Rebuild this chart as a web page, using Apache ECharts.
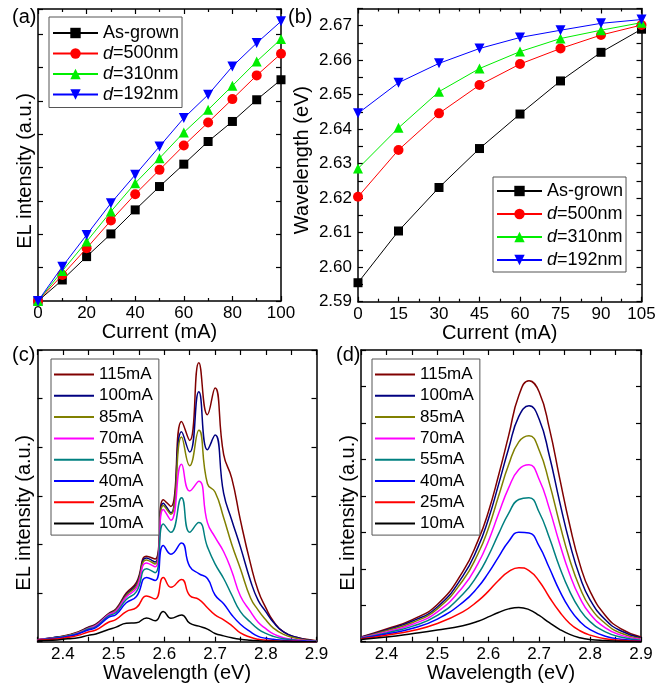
<!DOCTYPE html>
<html><head><meta charset="utf-8">
<script src="https://cdn.jsdelivr.net/npm/echarts@6/dist/echarts.min.js"></script>
<style>html,body{margin:0;padding:0;background:#fff}#c{width:670px;height:685px}</style>
</head><body><div id="c"></div>
<script>
const FONT = '"Liberation Sans", Arial, sans-serif';

// ---- Panel (a): EL intensity vs current ----
const currentA = [0, 10, 20, 30, 40, 50, 60, 70, 80, 90, 100];
const elAsGrown = [0, 0.63, 1.33, 2.01, 2.73, 3.43, 4.10, 4.78, 5.38, 6.03, 6.63];
const elD500 = [0, 0.78, 1.58, 2.41, 3.20, 3.93, 4.66, 5.35, 6.05, 6.76, 7.41];
const elD310 = [0, 0.90, 1.78, 2.68, 3.53, 4.28, 5.05, 5.73, 6.45, 7.18, 7.85];
const elD192 = [0, 1.03, 1.98, 2.93, 3.78, 4.63, 5.48, 6.18, 7.03, 7.73, 8.38];

// ---- Panel (b): peak position vs current ----
const currentB = [0, 15, 30, 45, 60, 75, 90, 105];
const wlAsGrown = [2.5955, 2.6105, 2.6231, 2.6344, 2.6444, 2.6540, 2.6623, 2.6690];
const wlD500 = [2.6204, 2.6340, 2.6446, 2.6528, 2.6589, 2.6634, 2.6673, 2.6702];
const wlD310 = [2.6286, 2.6404, 2.6509, 2.6576, 2.6625, 2.6663, 2.6687, 2.6709];
const wlD192 = [2.6446, 2.6535, 2.6591, 2.6634, 2.6666, 2.6687, 2.6707, 2.6718];

const sampleNames = ['As-grown', 'd=500nm', 'd=310nm', 'd=192nm'];
const currentNames = ['115mA', '100mA', '85mA', '70mA', '55mA', '40mA', '25mA', '10mA'];

// ---- Panel (c): spectra, as-grown ----
const energyC = [2.35, 2.38, 2.41, 2.43, 2.45, 2.465, 2.49, 2.505, 2.525, 2.545, 2.565, 2.582,
  2.598, 2.613, 2.634, 2.65, 2.668, 2.685, 2.70, 2.717, 2.733, 2.75, 2.77, 2.785, 2.80, 2.815, 2.835, 2.86, 2.88, 2.90];
const c115 = [0.04, 0.08, 0.14, 0.20, 0.30, 0.36, 0.58, 0.68, 1.00, 1.22, 1.76, 1.70,
  2.92, 2.78, 4.53, 4.14, 5.74, 4.67, 5.22, 3.85, 3.36, 2.50, 1.60, 1.05, 0.70, 0.42, 0.20, 0.09, 0.05, 0.02];
const c100 = [0.04, 0.08, 0.13, 0.19, 0.29, 0.35, 0.57, 0.66, 0.97, 1.18, 1.72, 1.64,
  2.85, 2.65, 4.32, 3.90, 5.14, 3.95, 4.25, 3.05, 2.50, 1.95, 1.25, 0.85, 0.62, 0.40, 0.20, 0.09, 0.04, 0.01];
const c85 = [0.04, 0.07, 0.13, 0.19, 0.28, 0.34, 0.56, 0.65, 0.95, 1.15, 1.68, 1.60,
  2.80, 2.62, 4.21, 3.62, 4.35, 3.25, 3.08, 2.55, 2.00, 1.50, 0.90, 0.65, 0.45, 0.28, 0.15, 0.07, 0.03, 0.01];
const c70 = [0.04, 0.07, 0.12, 0.18, 0.27, 0.33, 0.55, 0.63, 0.92, 1.10, 1.62, 1.54,
  2.72, 2.50, 3.65, 3.10, 3.30, 2.45, 2.15, 1.85, 1.45, 0.94, 0.62, 0.40, 0.27, 0.16, 0.08, 0.04, 0.02, 0.01];
const c55 = [0.03, 0.07, 0.12, 0.17, 0.26, 0.31, 0.53, 0.60, 0.87, 1.03, 1.50, 1.42,
  2.42, 2.25, 2.96, 2.25, 2.45, 1.95, 1.60, 1.30, 0.96, 0.62, 0.40, 0.26, 0.17, 0.11, 0.06, 0.03, 0.01, 0.01];
const c40 = [0.03, 0.06, 0.11, 0.16, 0.24, 0.29, 0.50, 0.56, 0.80, 0.93, 1.32, 1.26,
  1.98, 1.80, 2.03, 1.55, 1.40, 1.30, 0.96, 0.78, 0.55, 0.36, 0.20, 0.11, 0.07, 0.05, 0.03, 0.02, 0.01, 0.00];
const c25 = [0.03, 0.05, 0.09, 0.13, 0.20, 0.24, 0.40, 0.46, 0.62, 0.70, 0.94, 0.88,
  1.32, 1.12, 1.28, 0.95, 0.87, 0.70, 0.55, 0.45, 0.33, 0.18, 0.09, 0.05, 0.03, 0.02, 0.01, 0.01, 0.00, 0.00];
const c10 = [0.02, 0.03, 0.06, 0.08, 0.13, 0.16, 0.25, 0.30, 0.38, 0.39, 0.49, 0.43,
  0.62, 0.48, 0.55, 0.38, 0.32, 0.26, 0.17, 0.12, 0.08, 0.05, 0.03, 0.02, 0.01, 0.01, 0.01, 0.00, 0.00, 0.00];

// ---- Panel (d): spectra, patterned ----
const energyD = [2.35, 2.40, 2.45, 2.50, 2.55, 2.58, 2.60, 2.62, 2.64, 2.66, 2.68, 2.70, 2.72, 2.74, 2.76, 2.78, 2.80, 2.83, 2.86, 2.90];
const d115 = [0.13, 0.35, 0.60, 1.02, 1.92, 2.78, 3.55, 4.55, 5.65, 6.75, 7.16, 6.85, 5.85, 4.50, 3.20, 2.12, 1.38, 0.72, 0.36, 0.13];
const d100 = [0.12, 0.32, 0.56, 0.95, 1.80, 2.60, 3.35, 4.30, 5.30, 6.18, 6.47, 6.10, 5.10, 3.85, 2.70, 1.78, 1.15, 0.60, 0.30, 0.10];
const d85 = [0.11, 0.30, 0.52, 0.90, 1.68, 2.42, 3.10, 3.98, 4.85, 5.48, 5.65, 5.25, 4.35, 3.25, 2.25, 1.48, 0.95, 0.50, 0.24, 0.08];
const d70 = [0.11, 0.27, 0.47, 0.82, 1.50, 2.15, 2.75, 3.50, 4.22, 4.72, 4.85, 4.45, 3.65, 2.70, 1.85, 1.20, 0.76, 0.38, 0.18, 0.06];
const d55 = [0.10, 0.24, 0.42, 0.72, 1.30, 1.85, 2.35, 2.95, 3.52, 3.90, 3.95, 3.55, 2.85, 2.05, 1.38, 0.88, 0.55, 0.27, 0.13, 0.04];
const d40 = [0.09, 0.21, 0.36, 0.62, 1.08, 1.50, 1.88, 2.32, 2.75, 3.00, 2.98, 2.62, 2.02, 1.40, 0.90, 0.55, 0.33, 0.15, 0.07, 0.02];
const d25 = [0.08, 0.18, 0.30, 0.50, 0.82, 1.12, 1.38, 1.68, 1.92, 2.03, 1.95, 1.66, 1.22, 0.82, 0.50, 0.30, 0.18, 0.08, 0.04, 0.01];
const d10 = [0.06, 0.13, 0.22, 0.32, 0.44, 0.56, 0.68, 0.80, 0.90, 0.94, 0.88, 0.72, 0.52, 0.34, 0.20, 0.11, 0.06, 0.03, 0.01, 0.00];

const specColors = ['#800000', '#000080', '#808000', '#ff00ff', '#008080', '#0000ff', '#ff0000', '#000000'];
const sampleColors = ['#000000', '#ff0000', '#00ee00', '#0000ff'];
const sampleSymbols = ['rect', 'circle', 'triangle', 'triangle'];
const sampleRotate = [0, 0, 0, 180];

function zip(xs, ys) { return xs.map((x, i) => [x, ys[i]]); }

const grids = [
  { left: 38, top: 9, width: 243, height: 292 },
  { left: 358, top: 8.5, width: 283.5, height: 293.2 },
  { left: 37.5, top: 350, width: 279, height: 291.7 },
  { left: 361, top: 350, width: 280, height: 291.7 }
];

const lineAx = { show: true, onZero: false, lineStyle: { color: '#000', width: 1.5 } };
const tickAx = { show: true, inside: true, length: 5, lineStyle: { color: '#000', width: 1.2 } };
const labelBase = { color: '#000', fontFamily: FONT, fontSize: 17 };
const nameBase = { color: '#000', fontFamily: FONT, fontSize: 20 };

function xPair(g, cfg) {
  const main = Object.assign({
    type: 'value', gridIndex: g, position: 'bottom',
    axisLine: lineAx, axisTick: tickAx, splitLine: { show: false },
    minorTick: { show: !!cfg.minor, splitNumber: 2, length: 3, lineStyle: { color: '#000', width: 1.2 } },
    axisLabel: Object.assign({ margin: 4 }, labelBase, cfg.label || {}),
    nameLocation: 'middle', nameTextStyle: nameBase
  }, cfg.axis);
  const mirror = Object.assign({}, main, { position: 'top', name: '', axisLabel: { show: false } });
  return [main, mirror];
}
function yPair(g, cfg) {
  const main = Object.assign({
    type: 'value', gridIndex: g, position: 'left',
    axisLine: lineAx, axisTick: tickAx, splitLine: { show: false },
    minorTick: { show: !!cfg.minor, splitNumber: 2, length: 3, lineStyle: { color: '#000', width: 1.2 } },
    axisLabel: Object.assign({ margin: 6 }, labelBase, cfg.label || {}),
    nameLocation: 'middle', nameRotate: 90
  }, cfg.axis);
  const mirror = Object.assign({}, main, { position: 'right', name: '', axisLabel: { show: false } });
  return [main, mirror];
}

const evFmt = v => (Math.round(v * 100) % 10 === 0 ? v.toFixed(1) : '');
const wlFmt = v => (Math.round(v * 1000) % 10 === 0 ? v.toFixed(2) : '');

const xAxis = [].concat(
  xPair(0, { minor: true, axis: { min: 0, max: 100, interval: 20, name: 'Current (mA)', nameGap: 15 } }),
  xPair(1, { minor: true, axis: { min: 0, max: 105, interval: 15, name: 'Current (mA)', nameGap: 15 } }),
  xPair(2, { axis: { min: 2.35, max: 2.9, interval: 0.05, name: 'Wavelength (eV)', nameGap: 17 }, label: { formatter: evFmt } }),
  xPair(3, { axis: { min: 2.35, max: 2.9, interval: 0.05, name: 'Wavelength (eV)', nameGap: 17 }, label: { formatter: evFmt } })
);
const yAxis = [].concat(
  yPair(0, { axis: { min: 0, max: 8.75, interval: 1, name: 'EL intensity (a.u.)', nameGap: 3,
    nameTextStyle: Object.assign({ padding: [0, 32, 0, 0] }, nameBase) }, label: { show: false } }),
  yPair(1, { axis: { min: 2.59, max: 2.675, interval: 0.005, name: 'Wavelength (eV)', nameGap: 46,
    nameTextStyle: Object.assign({ padding: [0, 10, 0, 0] }, nameBase) }, label: { formatter: wlFmt } }),
  yPair(2, { axis: { min: 0, max: 6, interval: 1, name: 'EL intensity (a.u.)', nameGap: 3,
    nameTextStyle: Object.assign({ padding: [0, 34, 0, 0] }, nameBase) }, label: { show: false } }),
  yPair(3, { axis: { min: 0, max: 8, interval: 1, name: 'EL intensity (a.u.)', nameGap: 3,
    nameTextStyle: Object.assign({ padding: [0, 34, 0, 0] }, nameBase) }, label: { show: false } })
);

const series = [];
const aData = [elAsGrown, elD500, elD310, elD192];
const bData = [wlAsGrown, wlD500, wlD310, wlD192];
sampleNames.forEach((n, i) => {
  const common = {
    type: 'line', name: n, symbol: sampleSymbols[i], symbolRotate: sampleRotate[i],
    symbolSize: i === 0 ? 9 : 10, color: sampleColors[i],
    lineStyle: { width: 1, color: sampleColors[i] }, itemStyle: { color: sampleColors[i] },
    animation: false, z: 3 + i
  };
  series.push(Object.assign({}, common, { xAxisIndex: 0, yAxisIndex: 0, data: zip(currentA, aData[i]) }));
  series.push(Object.assign({}, common, { xAxisIndex: 2, yAxisIndex: 2, data: zip(currentB, bData[i]) }));
});
const cData = [c115, c100, c85, c70, c55, c40, c25, c10];
const dData = [d115, d100, d85, d70, d55, d40, d25, d10];
currentNames.forEach((n, i) => {
  const common = {
    type: 'line', name: n, symbol: 'none', showSymbol: false, smooth: 0.5,
    color: specColors[i], lineStyle: { width: 1.5, color: specColors[i] }, animation: false
  };
  series.push(Object.assign({}, common, { xAxisIndex: 4, yAxisIndex: 4, data: zip(energyC, cData[i]) }));
  series.push(Object.assign({}, common, { xAxisIndex: 6, yAxisIndex: 6, data: zip(energyD, dData[i]) }));
});

function legendFmt(name) {
  return name.indexOf('d=') === 0 ? '{i|d}{n|' + name.slice(1) + '}' : '{n|' + name + '}';
}
function legendBox(names, left, top, fs, gap, iw, ih, pad, icon) {
  const lg = {
    data: names, orient: 'vertical', left: left, top: top, itemGap: gap,
    itemWidth: iw, itemHeight: ih, selectedMode: false,
    backgroundColor: '#fff', borderColor: '#555', borderWidth: 1, padding: pad,
    formatter: legendFmt,
    textStyle: {
      color: '#000', fontFamily: FONT, fontSize: fs,
      rich: {
        i: { fontStyle: 'italic', fontSize: fs, fontFamily: FONT, color: '#000', lineHeight: fs },
        n: { fontSize: fs, fontFamily: FONT, color: '#000', lineHeight: fs }
      }
    }
  };
  if (icon) lg.icon = icon;
  return lg;
}

const legend = [
  legendBox(sampleNames, 49, 17, 18, 2.5, 45, 13, [7, 3, 4, 3]),
  legendBox(sampleNames, 493, 177, 18, 5, 45, 13, [5, 3, 3, 3]),
  legendBox(currentNames, 51, 359, 17, 4.3, 40, 2, [7, 6, 3, 3], 'rect'),
  legendBox(currentNames, 372, 359, 17, 4.3, 40, 2, [7, 6, 3, 3], 'rect')
];

const titleStyle = { color: '#000', fontFamily: FONT, fontSize: 20, fontWeight: 'normal' };
const title = [
  { text: '(a)', left: 12, top: 7, textStyle: titleStyle, padding: 0 },
  { text: '(b)', left: 288, top: 7, textStyle: titleStyle, padding: 0 },
  { text: '(c)', left: 12, top: 345, textStyle: titleStyle, padding: 0 },
  { text: '(d)', left: 336, top: 345, textStyle: titleStyle, padding: 0 }
];

const chart = echarts.init(document.getElementById('c'), null, { renderer: 'canvas' });
chart.setOption({
  backgroundColor: '#fff', animation: false,
  title: title, grid: grids, xAxis: xAxis, yAxis: yAxis, legend: legend, series: series
});
</script>
</body></html>
